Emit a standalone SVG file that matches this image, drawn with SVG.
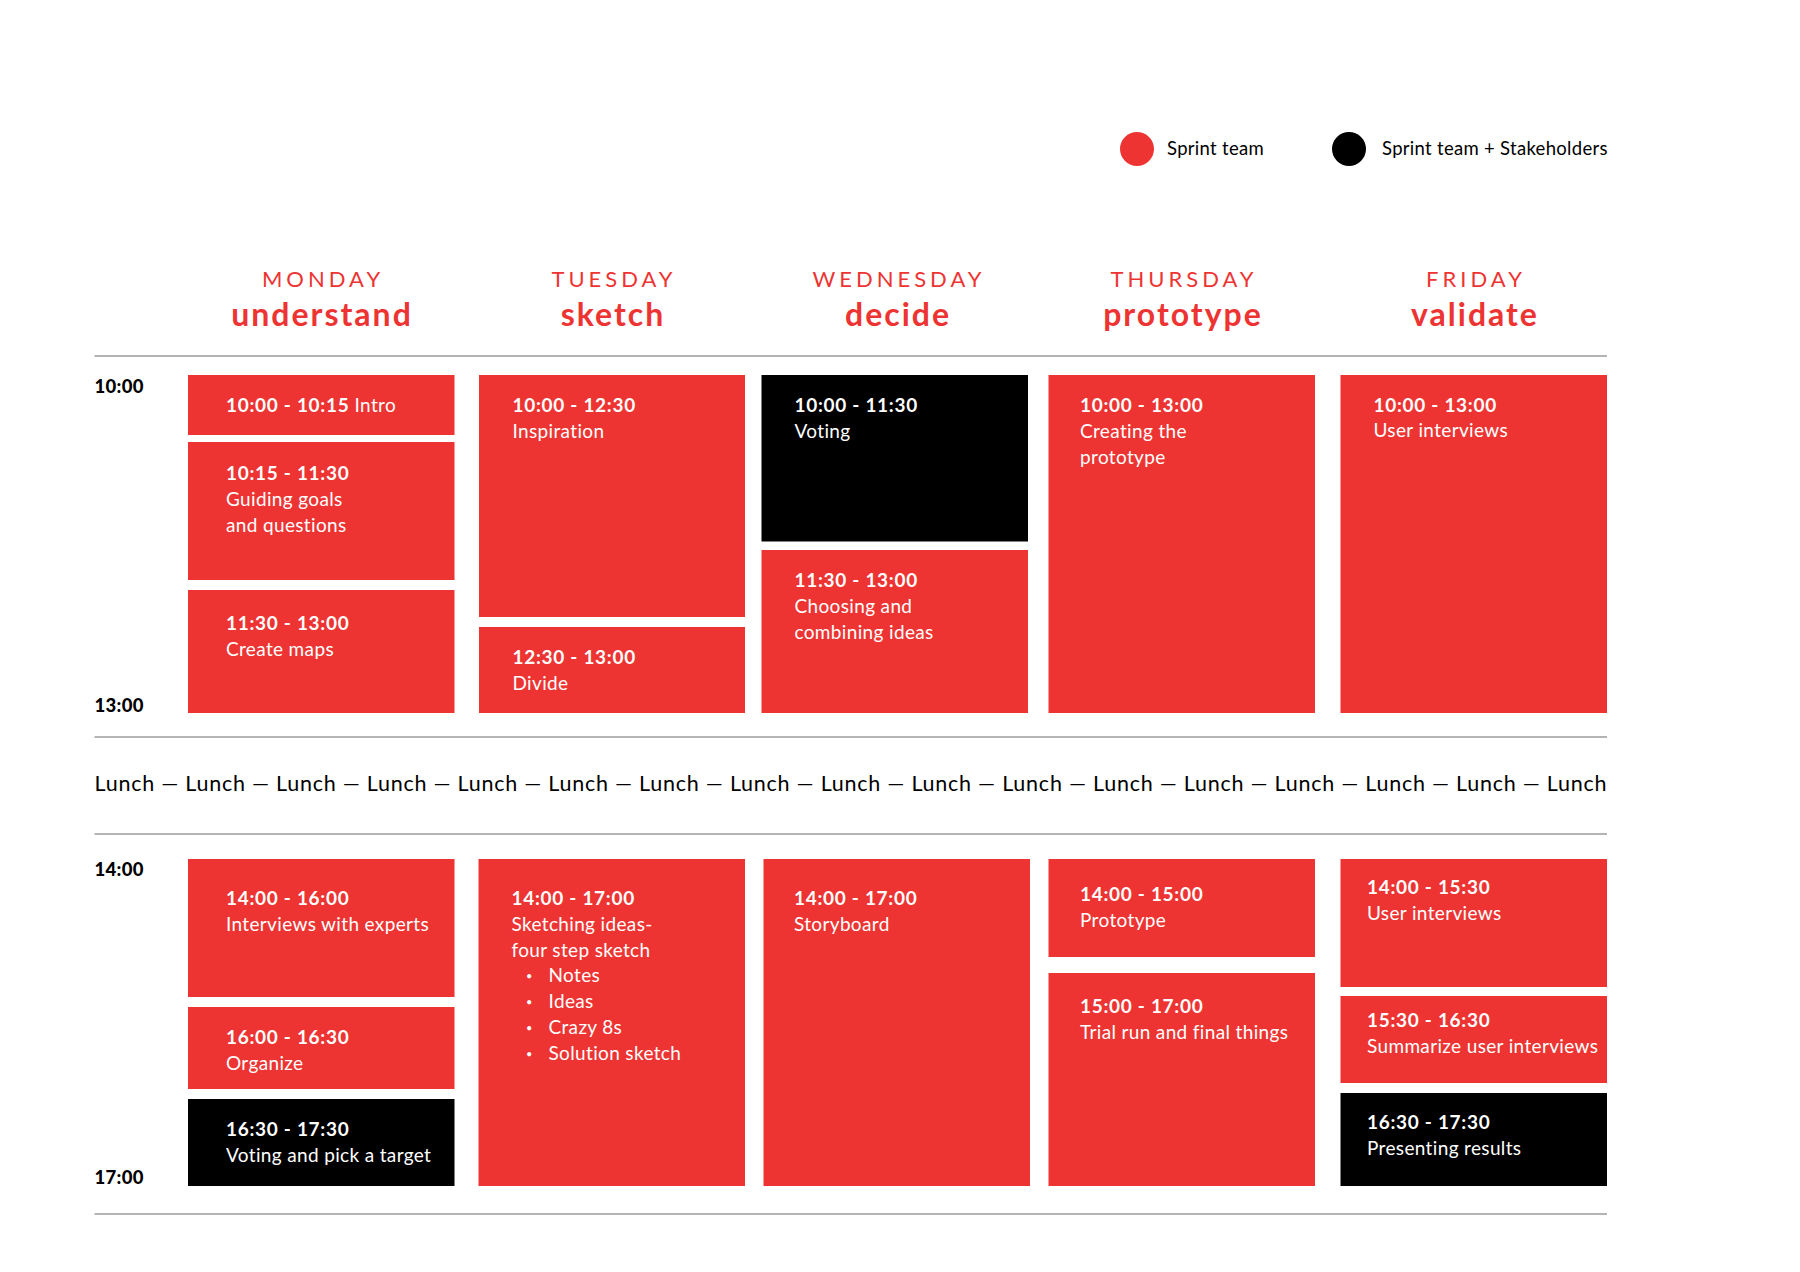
<svg xmlns="http://www.w3.org/2000/svg" width="1800" height="1272" viewBox="0 0 1800 1272">
<style>
.bg{fill:#ffffff}
.r{fill:#ED3432}
.k{fill:#000000}
.rule{stroke:#b4b4b4;stroke-width:2;fill:none}
text{font-family:Lato,"Noto Sans","Liberation Sans",sans-serif}
.t{fill:#ffffff;font-size:19px;letter-spacing:0.35px}
.b{font-weight:700;letter-spacing:0.7px}
.bul{fill:#ffffff;font-size:11px}
.day{fill:#ED3432;font-size:22px;letter-spacing:4px;text-anchor:middle}
.verb{fill:#ED3432;font-size:32px;font-weight:700;letter-spacing:2px;text-anchor:middle}
.time{fill:#000;font-size:18.5px;font-weight:900;letter-spacing:0.3px}
.leg{fill:#000;font-size:18.5px;letter-spacing:0.3px}
.lunch{fill:#000;font-size:21.5px}
</style>
<rect class="bg" x="0" y="0" width="1800" height="1272"/>

<g id="legend">
  <circle class="r" cx="1137" cy="149" r="17"/>
  <text class="leg" x="1167" y="155">Sprint team</text>
  <circle class="k" cx="1349" cy="149" r="17"/>
  <text class="leg" x="1382" y="155">Sprint team + Stakeholders</text>
</g>

<g id="headers">
  <text class="day" x="323" y="287">MONDAY</text>
  <text class="verb" x="322" y="326">understand</text>
  <text class="day" x="614" y="287">TUESDAY</text>
  <text class="verb" x="613" y="326">sketch</text>
  <text class="day" x="899" y="287">WEDNESDAY</text>
  <text class="verb" x="898" y="326">decide</text>
  <text class="day" x="1184" y="287">THURSDAY</text>
  <text class="verb" x="1183" y="326">prototype</text>
  <text class="day" x="1476" y="287">FRIDAY</text>
  <text class="verb" x="1475" y="326">validate</text>
</g>

<g id="rules">
  <line class="rule" x1="94.5" y1="356" x2="1607" y2="356"/>
  <line class="rule" x1="94.5" y1="737" x2="1607" y2="737"/>
  <line class="rule" x1="94.5" y1="834" x2="1607" y2="834"/>
  <line class="rule" x1="94.5" y1="1214" x2="1607" y2="1214"/>
</g>

<g id="times">
  <text class="time" x="94.5" y="393">10:00</text>
  <text class="time" x="94.5" y="712">13:00</text>
  <text class="time" x="94.5" y="876">14:00</text>
  <text class="time" x="94.5" y="1184">17:00</text>
</g>

<g id="lunch">
  <text class="lunch" x="94.5" y="791" textLength="1512" lengthAdjust="spacing">Lunch — Lunch — Lunch — Lunch — Lunch — Lunch — Lunch — Lunch — Lunch — Lunch — Lunch — Lunch — Lunch — Lunch — Lunch — Lunch — Lunch</text>
</g>

<g id="mon-1">
  <rect class="r" x="188" y="375" width="266.5" height="60"/>
  <text class="t" x="226" y="411.5"><tspan class="b">10:00 - 10:15</tspan> Intro</text>
</g>
<g id="mon-2">
  <rect class="r" x="188" y="442" width="266.5" height="138"/>
  <text class="t b" x="226" y="479.5">10:15 - 11:30</text>
  <text class="t" x="226" y="505.5">Guiding goals</text>
  <text class="t" x="226" y="531.5">and questions</text>
</g>
<g id="mon-3">
  <rect class="r" x="188" y="590" width="266.5" height="123"/>
  <text class="t b" x="226" y="629.5">11:30 - 13:00</text>
  <text class="t" x="226" y="655.5">Create maps</text>
</g>

<g id="tue-1">
  <rect class="r" x="479" y="375" width="266" height="242"/>
  <text class="t b" x="512.5" y="411.5">10:00 - 12:30</text>
  <text class="t" x="512.5" y="437.5">Inspiration</text>
</g>
<g id="tue-2">
  <rect class="r" x="479" y="627" width="266" height="86"/>
  <text class="t b" x="512.5" y="664">12:30 - 13:00</text>
  <text class="t" x="512.5" y="690">Divide</text>
</g>

<g id="wed-1">
  <rect class="k" x="761.5" y="375" width="266.5" height="166.5"/>
  <text class="t b" x="794.5" y="411.5">10:00 - 11:30</text>
  <text class="t" x="794.5" y="437.5">Voting</text>
</g>
<g id="wed-2">
  <rect class="r" x="761.5" y="550" width="266.5" height="163"/>
  <text class="t b" x="794.5" y="586.5">11:30 - 13:00</text>
  <text class="t" x="794.5" y="612.5">Choosing and</text>
  <text class="t" x="794.5" y="638.5">combining ideas</text>
</g>

<g id="thu-1">
  <rect class="r" x="1048.5" y="375" width="266.5" height="338"/>
  <text class="t b" x="1080" y="411.5">10:00 - 13:00</text>
  <text class="t" x="1080" y="437.5">Creating the</text>
  <text class="t" x="1080" y="463.5">prototype</text>
</g>

<g id="fri-1">
  <rect class="r" x="1340.5" y="375" width="266.5" height="338"/>
  <text class="t b" x="1373.5" y="411.5">10:00 - 13:00</text>
  <text class="t" x="1373.5" y="437">User interviews</text>
</g>

<g id="mon-4">
  <rect class="r" x="188" y="859" width="266.5" height="138"/>
  <text class="t b" x="226" y="904.5">14:00 - 16:00</text>
  <text class="t" x="226" y="930.5">Interviews with experts</text>
</g>
<g id="mon-5">
  <rect class="r" x="188" y="1007" width="266.5" height="82"/>
  <text class="t b" x="226" y="1043.5">16:00 - 16:30</text>
  <text class="t" x="226" y="1069.5">Organize</text>
</g>
<g id="mon-6">
  <rect class="k" x="188" y="1099" width="266.5" height="87"/>
  <text class="t b" x="226" y="1135.5">16:30 - 17:30</text>
  <text class="t" x="226" y="1161.5">Voting and pick a target</text>
</g>

<g id="tue-3">
  <rect class="r" x="478.5" y="859" width="266.5" height="327"/>
  <text class="t b" x="511.5" y="905">14:00 - 17:00</text>
  <text class="t" x="511.5" y="931">Sketching ideas-</text>
  <text class="t" x="511.5" y="957">four step sketch</text>
  <text class="bul" x="526" y="980">•</text>
  <text class="t" x="548.5" y="982">Notes</text>
  <text class="bul" x="526" y="1006">•</text>
  <text class="t" x="548.5" y="1008">Ideas</text>
  <text class="bul" x="526" y="1032">•</text>
  <text class="t" x="548.5" y="1034">Crazy 8s</text>
  <text class="bul" x="526" y="1058">•</text>
  <text class="t" x="548.5" y="1060">Solution sketch</text>
</g>

<g id="wed-3">
  <rect class="r" x="763.5" y="859" width="266.5" height="327"/>
  <text class="t b" x="794" y="905">14:00 - 17:00</text>
  <text class="t" x="794" y="931">Storyboard</text>
</g>

<g id="thu-2">
  <rect class="r" x="1048.5" y="859" width="266.5" height="98"/>
  <text class="t b" x="1080" y="901">14:00 - 15:00</text>
  <text class="t" x="1080" y="927">Prototype</text>
</g>
<g id="thu-3">
  <rect class="r" x="1048.5" y="973" width="266.5" height="213"/>
  <text class="t b" x="1080" y="1012.5">15:00 - 17:00</text>
  <text class="t" x="1080" y="1038.5">Trial run and final things</text>
</g>

<g id="fri-2">
  <rect class="r" x="1340.5" y="859" width="266.5" height="128"/>
  <text class="t b" x="1367" y="894">14:00 - 15:30</text>
  <text class="t" x="1367" y="920">User interviews</text>
</g>
<g id="fri-3">
  <rect class="r" x="1340.5" y="996" width="266.5" height="87"/>
  <text class="t b" x="1367" y="1027">15:30 - 16:30</text>
  <text class="t" x="1367" y="1053">Summarize user interviews</text>
</g>
<g id="fri-4">
  <rect class="k" x="1340.5" y="1093" width="266.5" height="93"/>
  <text class="t b" x="1367" y="1129">16:30 - 17:30</text>
  <text class="t" x="1367" y="1154.5">Presenting results</text>
</g>
</svg>
